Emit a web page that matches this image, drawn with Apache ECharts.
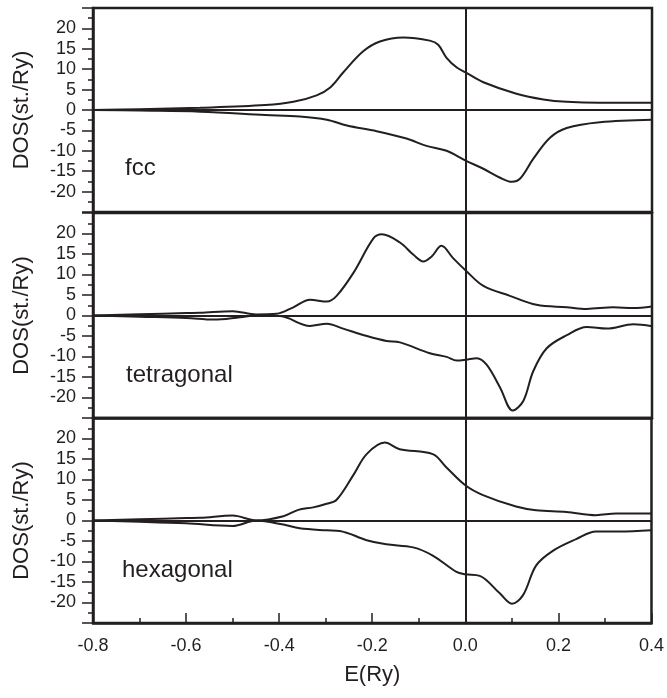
<!DOCTYPE html>
<html>
<head>
<meta charset="utf-8">
<script src="https://cdn.jsdelivr.net/npm/echarts@6/dist/echarts.min.js"></script>
<style>
html,body{margin:0;padding:0;background:#fff;}
#chart{width:667px;height:698px;}
</style>
</head>
<body>
<div id="chart"></div>
<script>
// Energy ticks (Ry)
const xTicks = [-0.8, -0.6, -0.4, -0.2, 0.0, 0.2, 0.4];
const panelNames = ['fcc', 'tetragonal', 'hexagonal'];

// fcc: [E (Ry), DOS (st./Ry)]
const fccUp = [[-0.8,0],[-0.7,0.2],[-0.57,0.55],[-0.43,1.2],[-0.37,2.0],[-0.32,3.6],[-0.29,5.6],[-0.263,9.2],[-0.22,14.4],[-0.184,16.8],[-0.134,17.8],[-0.077,17.0],[-0.059,16.0],[-0.041,12.8],[-0.019,10.4],[0,9.2],[0.038,6.8],[0.109,4.0],[0.167,2.6],[0.217,2.0],[0.288,1.75],[0.4,1.75]];
const fccDown = [[-0.8,0],[-0.7,-0.15],[-0.57,-0.4],[-0.43,-1.2],[-0.356,-1.6],[-0.298,-2.4],[-0.255,-3.8],[-0.191,-5.2],[-0.127,-7.0],[-0.084,-8.8],[-0.041,-10.0],[0,-12.4],[0.038,-14.4],[0.074,-16.6],[0.099,-17.6],[0.117,-16.8],[0.145,-12.0],[0.181,-6.8],[0.217,-4.4],[0.288,-3.0],[0.4,-2.4]];

// tetragonal
const tetUp = [[-0.8,0],[-0.7,0.3],[-0.6,0.6],[-0.57,0.65],[-0.5,1.05],[-0.45,0.25],[-0.406,0.4],[-0.37,2.0],[-0.334,3.85],[-0.298,3.4],[-0.277,4.8],[-0.241,10.4],[-0.198,18.8],[-0.18,19.8],[-0.141,17.8],[-0.112,14.8],[-0.091,13.2],[-0.073,14.4],[-0.052,17.0],[-0.027,14.0],[0,11.0],[0.038,7.2],[0.095,4.8],[0.152,2.6],[0.217,2.0],[0.26,1.6],[0.317,2.0],[0.36,1.8],[0.4,2.2]];
const tetDown = [[-0.8,0],[-0.7,-0.3],[-0.6,-0.6],[-0.541,-1.0],[-0.484,-0.4],[-0.45,0],[-0.398,-0.15],[-0.334,-2.55],[-0.298,-2.0],[-0.263,-3.2],[-0.212,-5.0],[-0.17,-6.2],[-0.141,-6.55],[-0.077,-9.2],[-0.041,-10.1],[-0.019,-11.0],[0,-10.8],[0.024,-10.4],[0.045,-12.0],[0.074,-17.6],[0.101,-23.2],[0.124,-20.8],[0.145,-13.6],[0.174,-8.0],[0.217,-4.8],[0.26,-2.8],[0.303,-3.2],[0.36,-2.15],[0.4,-2.6]];

// hexagonal
const hexUp = [[-0.8,0],[-0.7,0.3],[-0.6,0.6],[-0.57,0.65],[-0.5,1.2],[-0.449,0],[-0.391,1.04],[-0.359,2.6],[-0.327,3.2],[-0.298,4.1],[-0.277,5.0],[-0.241,11.0],[-0.212,16.2],[-0.173,19.0],[-0.141,17.4],[-0.07,16.2],[-0.041,13.0],[0,8.6],[0.038,6.2],[0.109,3.4],[0.152,2.5],[0.217,2.1],[0.281,1.3],[0.324,1.7],[0.4,1.7]];
const hexDown = [[-0.8,0],[-0.7,-0.3],[-0.6,-0.7],[-0.5,-1.35],[-0.449,0],[-0.391,-1.0],[-0.356,-1.9],[-0.298,-2.4],[-0.27,-2.55],[-0.212,-4.8],[-0.17,-5.8],[-0.112,-6.55],[-0.07,-8.55],[-0.019,-12.55],[0,-13.1],[0.031,-13.5],[0.074,-17.75],[0.1,-20.3],[0.124,-18.2],[0.152,-11.0],[0.188,-7.4],[0.238,-4.55],[0.281,-2.7],[0.33,-2.7],[0.4,-2.4]];

const panelData = [[fccUp, fccDown], [tetUp, tetDown], [hexUp, hexDown]];

const INK = '#231f20';
const FONT = '"Liberation Sans", Arial, Helvetica, sans-serif';
const gridTops = [8, 213, 418];
const gridHeights = [204, 205, 205];
const labelPos = [[125, 168], [126, 375], [122, 570]];

const grids = [], xAxes = [], yAxes = [], series = [], graphics = [];
for (let i = 0; i < 3; i++) {
  grids.push({left: 93, right: 15, top: gridTops[i], height: gridHeights[i],
    show: true, borderColor: INK, borderWidth: 2.5, backgroundColor: 'transparent'});
  const last = i === 2;
  xAxes.push({
    type: 'value', gridIndex: i, min: -0.8, max: 0.4, interval: 0.2,
    axisLine: {show: true, onZero: false, lineStyle: {color: INK, width: 2.5}},
    axisTick: {show: last, inside: true, length: 10, lineStyle: {color: INK, width: 1.5}},
    minorTick: {show: last, splitNumber: 2, length: 5, lineStyle: {color: INK, width: 1.5}},
    splitLine: {show: false},
    axisLabel: {show: last, color: INK, fontFamily: FONT, fontSize: 18, margin: 14,
      formatter: v => v.toFixed(1)},
    name: last ? 'E(Ry)' : '', nameLocation: 'middle', nameGap: 41,
    nameTextStyle: {color: INK, fontFamily: FONT, fontSize: 22}
  });
  yAxes.push({
    type: 'value', gridIndex: i, min: -25, max: 25, interval: 5,
    axisLine: {show: true, onZero: false, lineStyle: {color: INK, width: 2.5}},
    axisTick: {show: true, inside: false, length: 11, lineStyle: {color: INK, width: 1.5}},
    minorTick: {show: true, splitNumber: 2, length: 5, lineStyle: {color: INK, width: 1.5}},
    splitLine: {show: false},
    axisLabel: {color: INK, fontFamily: FONT, fontSize: 18, margin: 17,
      showMinLabel: false, showMaxLabel: false,
      formatter: v => (Math.abs(v) >= 25 ? '' : String(v))},
    name: 'DOS(st./Ry)', nameLocation: 'middle', nameRotate: 90, nameGap: 60,
    nameTextStyle: {color: INK, fontFamily: FONT, fontSize: 22}
  });
  panelData[i].forEach((d, k) => {
    const s = {
      type: 'line', xAxisIndex: i, yAxisIndex: i, data: d,
      smooth: 0.35, showSymbol: false, silent: true,
      lineStyle: {color: INK, width: 2}, animation: false
    };
    if (k === 0) {
      s.markLine = {
        silent: true, symbol: 'none', animation: false,
        label: {show: false},
        lineStyle: {color: INK, width: 2, type: 'solid'},
        data: [{xAxis: 0}, {yAxis: 0}]
      };
    }
    series.push(s);
  });
  graphics.push({
    type: 'text', x: labelPos[i][0], y: labelPos[i][1],
    style: {text: panelNames[i], font: '24px ' + FONT, fill: INK, verticalAlign: 'middle', textVerticalAlign: 'middle'}
  });
}

const chart = echarts.init(document.getElementById('chart'), null, {renderer: 'canvas'});
chart.setOption({
  animation: false,
  backgroundColor: '#fff',
  grid: grids, xAxis: xAxes, yAxis: yAxes, series: series, graphic: graphics
});
</script>
</body>
</html>
